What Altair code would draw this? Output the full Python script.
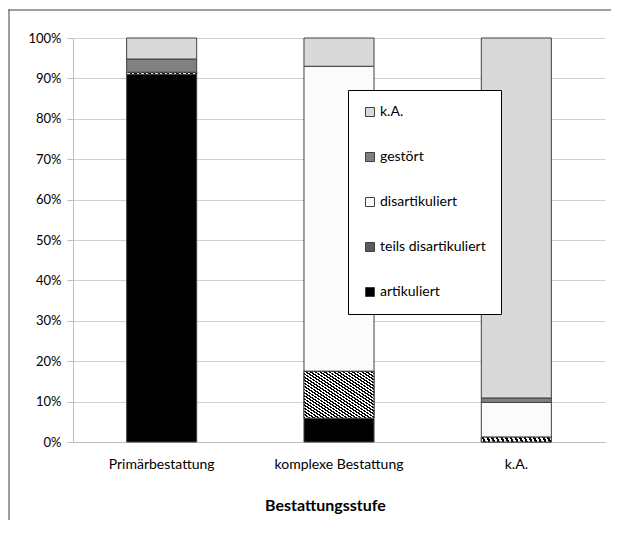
import altair as alt
import pandas as pd

categories = ["Primärbestattung", "komplexe Bestattung", "k.A."]
series = ["artikuliert", "teils disartikuliert", "disartikuliert", "gestört", "k.A."]
artikuliert = [91.0, 5.9, 0.0]
teils_disartikuliert = [0.5, 11.6, 1.2]
disartikuliert = [0.0, 75.5, 8.6]
gestoert = [3.3, 0.0, 1.1]
ka = [5.2, 7.0, 89.1]

legend_order = ["k.A.", "gestört", "disartikuliert", "teils disartikuliert", "artikuliert"]
legend_colors = ["#d9d9d9", "#808080", "#fbfbfb", "#5a5a5a", "#000000"]

vals = [artikuliert, teils_disartikuliert, disartikuliert, gestoert, ka]
rows = []
for si, s in enumerate(series):
    for ci, c in enumerate(categories):
        rows.append({"cat": c, "series": s, "ord": si, "value": vals[si][ci]})
df = pd.DataFrame(rows)

FONT = "Lato"

# hatch-like gradient for "teils disartikuliert"
stops = []
n = 30
for i in range(n):
    a = i / n
    b = (i + 0.5) / n
    c = (i + 1) / n
    stops += [
        {"offset": a, "color": "#000000"},
        {"offset": b, "color": "#000000"},
        {"offset": b, "color": "#ffffff"},
        {"offset": c, "color": "#ffffff"},
    ]
hatch = {"gradient": "linear", "x1": 0, "y1": 1, "x2": 1, "y2": 0, "stops": stops}

x_enc = alt.X(
    "cat:N",
    sort=categories,
    scale=alt.Scale(paddingInner=0.605, paddingOuter=0.3025),
    axis=alt.Axis(
        title="Bestattungsstufe",
        labelAngle=0,
        ticks=False,
        labelPadding=15,
        labelFontSize=14,
        labelFont=FONT,
        labelColor="#000000",
        titleFont=FONT,
        titleFontSize=16,
        titleFontWeight="bold",
        titleColor="#000000",
        titleX=252,
        titleY=63,
        titleAlign="center",
        titleBaseline="middle",
        domainColor="#bfbfbf",
        grid=False,
    ),
)
y_enc = alt.Y(
    "y0:Q",
    scale=alt.Scale(domain=[0, 100], nice=False),
    axis=alt.Axis(
        title=None,
        values=[0, 10, 20, 30, 40, 50, 60, 70, 80, 90, 100],
        labelExpr="datum.value + '%'",
        tickSize=6,
        labelPadding=6,
        labelFontSize=13,
        labelFont=FONT,
        labelColor="#000000",
        tickColor="#bfbfbf",
        domainColor="#bfbfbf",
        gridColor="#d0d0d0",
        grid=True,
    ),
)

base = alt.Chart(df).transform_stack(
    stack="value", groupby=["cat"], as_=["y0", "y1"], sort=[alt.SortField("ord")]
).transform_filter("datum.value > 0")

bars = base.mark_bar(stroke="#404040", strokeWidth=1).encode(
    x=x_enc,
    y=y_enc,
    y2="y1:Q",
    color=alt.Color(
        "series:N",
        scale=alt.Scale(domain=legend_order, range=legend_colors),
        legend=alt.Legend(
            title=None,
            orient="none",
            legendX=275,
            legendY=52,
            padding=15,
            strokeColor="#000000",
            fillColor="#ffffff",
            rowPadding=31,
            symbolType="square",
            symbolSize=81,
            symbolStrokeColor="#404040",
            symbolStrokeWidth=1,
            labelFontSize=14,
            labelFont=FONT,
            labelColor="#000000",
            labelOffset=3,
        ),
    ),
)

hatched = base.transform_filter("datum.series == 'teils disartikuliert'").mark_bar(
    stroke="#404040", strokeWidth=1
).encode(
    x=alt.X("cat:N", sort=categories),
    y="y0:Q",
    y2="y1:Q",
    fill=alt.value(hatch),
)

frame_df = pd.DataFrame({"a": [0]})
frame_left = alt.Chart(frame_df).mark_rect(color="#404040", strokeWidth=0).encode(
    x=alt.value(-64.5), x2=alt.value(-63.5), y=alt.value(-28.5), y2=alt.value(482)
)
frame_top = alt.Chart(frame_df).mark_rect(color="#404040", strokeWidth=0).encode(
    x=alt.value(-64.5), x2=alt.value(538), y=alt.value(-28.5), y2=alt.value(-27.5)
)

chart = alt.layer(frame_left, frame_top, bars, hatched).properties(
    width=532,
    height=404,
    autosize=alt.AutoSizeParams(type="none"),
    padding={"left": 65, "top": 30, "right": 6, "bottom": 78},
).configure_view(stroke=None)

chart.save("out.html", embed_options={"renderer": "svg", "actions": False})
